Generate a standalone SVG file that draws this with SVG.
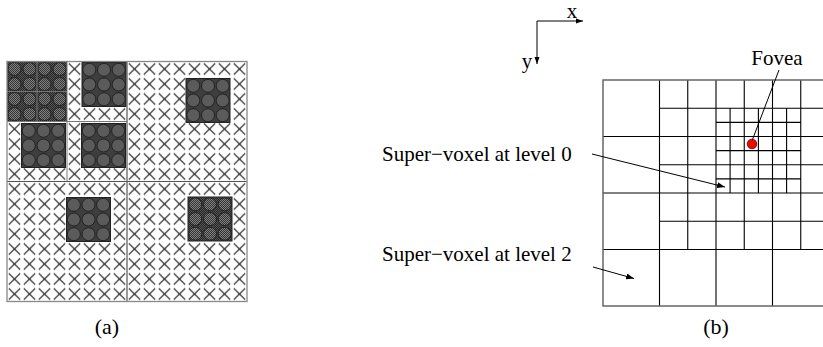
<svg xmlns="http://www.w3.org/2000/svg" xmlns:xlink="http://www.w3.org/1999/xlink" width="823" height="347" viewBox="0 0 823 347">
<style>
  text { font-family: "Liberation Serif", "Times New Roman", serif; fill: #000; }
  .lbl { font-size: 21px; }
  .cap { font-size: 22px; }
  .g { stroke: #000; stroke-width: 1.1; fill: none; }
  .gout { stroke: #666; stroke-width: 1.5; fill: none; }
  .qa { stroke: #555; stroke-width: 1.2; fill: none; }
  .qs { stroke: #777; stroke-width: 1; fill: none; }
  .circ { fill: url(#lt); stroke: #1e1e1e; stroke-width: 0.9; }
  .conn { stroke: #000; stroke-width: 1; fill: none; }
</style>
<defs>
  <pattern id="xp" x="7" y="61.5" width="15" height="15" patternUnits="userSpaceOnUse">
    <path d="M1.8 1.8L13.2 13.2M13.2 1.8L1.8 13.2" stroke="#111" stroke-width="1.1" fill="none"/>
  </pattern>
  <pattern id="dk" x="0" y="0" width="2" height="2" patternUnits="userSpaceOnUse">
    <rect width="2" height="2" fill="#555"/>
    <rect width="1" height="1" fill="#262626"/>
    <rect x="1" y="1" width="1" height="1" fill="#262626"/>
  </pattern>
  <pattern id="lt" x="0" y="0" width="2" height="2" patternUnits="userSpaceOnUse">
    <rect width="2" height="2" fill="#808080"/>
    <rect width="1" height="1" fill="#363636"/>
    <rect x="1" y="1" width="1" height="1" fill="#363636"/>
  </pattern>
  <g id="blk3">
    <rect width="44" height="44" fill="url(#dk)" stroke="#222" stroke-width="1"/>
    <circle class="circ" cx="7.33" cy="7.33" r="6.5"/>
    <circle class="circ" cx="22" cy="7.33" r="6.5"/>
    <circle class="circ" cx="36.67" cy="7.33" r="6.5"/>
    <circle class="circ" cx="7.33" cy="22" r="6.5"/>
    <circle class="circ" cx="22" cy="22" r="6.5"/>
    <circle class="circ" cx="36.67" cy="22" r="6.5"/>
    <circle class="circ" cx="7.33" cy="36.67" r="6.5"/>
    <circle class="circ" cx="22" cy="36.67" r="6.5"/>
    <circle class="circ" cx="36.67" cy="36.67" r="6.5"/>
  </g>
  <marker id="ah" viewBox="0 0 8 6" refX="8" refY="3" markerWidth="8" markerHeight="6" markerUnits="userSpaceOnUse" orient="auto">
    <path d="M0 0L8 3L0 6z" fill="#000"/>
  </marker>
  <marker id="ahs" viewBox="0 0 7 6" refX="7" refY="3" markerWidth="7" markerHeight="6" markerUnits="userSpaceOnUse" orient="auto">
    <path d="M0 0.5L7 3L0 5.5z" fill="#000"/>
  </marker>
</defs>
<rect width="823" height="347" fill="#fff"/>

<!-- Panel (a) -->
<g id="panel-a">
  <rect x="7" y="61.5" width="240" height="240" fill="url(#xp)"/>
  <g id="tl-sub">
    <rect x="7" y="61.5" width="60" height="60" fill="url(#dk)"/>
    <circle class="circ" cx="14.5" cy="69" r="6.5"/>
    <circle class="circ" cx="29.5" cy="69" r="6.5"/>
    <circle class="circ" cx="44.5" cy="69" r="6.5"/>
    <circle class="circ" cx="59.5" cy="69" r="6.5"/>
    <circle class="circ" cx="14.5" cy="84" r="6.5"/>
    <circle class="circ" cx="29.5" cy="84" r="6.5"/>
    <circle class="circ" cx="44.5" cy="84" r="6.5"/>
    <circle class="circ" cx="59.5" cy="84" r="6.5"/>
    <circle class="circ" cx="14.5" cy="99" r="6.5"/>
    <circle class="circ" cx="29.5" cy="99" r="6.5"/>
    <circle class="circ" cx="44.5" cy="99" r="6.5"/>
    <circle class="circ" cx="59.5" cy="99" r="6.5"/>
    <circle class="circ" cx="14.5" cy="114" r="6.5"/>
    <circle class="circ" cx="29.5" cy="114" r="6.5"/>
    <circle class="circ" cx="44.5" cy="114" r="6.5"/>
    <circle class="circ" cx="59.5" cy="114" r="6.5"/>
    <path class="qs" d="M37 61.5V121.5M7 91.5H67"/>
  </g>
  <use id="blk-tl-tr" xlink:href="#blk3" href="#blk3" x="82" y="62.5"/>
  <use id="blk-tl-bl" xlink:href="#blk3" href="#blk3" x="21.5" y="123.5"/>
  <use id="blk-tl-br" xlink:href="#blk3" href="#blk3" x="81.5" y="123.5"/>
  <use id="blk-tr" xlink:href="#blk3" href="#blk3" x="186" y="78.5"/>
  <use id="blk-bl" xlink:href="#blk3" href="#blk3" x="66.5" y="197.5"/>
  <use id="blk-br" xlink:href="#blk3" href="#blk3" x="188" y="197"/>
  <path class="qs" d="M67 61.5V181.5M7 121.5H127"/>
  <path class="qa" d="M127 61.5V301.5M7 181.5H247"/>
  <rect x="7" y="61.5" width="240" height="240" fill="none" stroke="#888" stroke-width="1.3"/>
</g>
<text id="cap-a" class="cap" x="107" y="334" text-anchor="middle">(a)</text>

<!-- Axes -->
<g id="axes">
  <path class="conn" d="M537 21H583" marker-end="url(#ahs)"/>
  <path class="conn" d="M537 21V64" marker-end="url(#ahs)"/>
  <text class="lbl" x="572" y="18" text-anchor="middle">x</text>
  <text class="lbl" x="527" y="68" text-anchor="middle">y</text>
</g>

<!-- Panel (b) grid -->
<g id="grid">
  <path class="g" d="M603 136.5H829M603 193H829M603 249.5H829
    M659.5 108.25H829M659.5 164.75H829M659.5 221.25H829
    M716 122.4H800.75M716 150.6H800.75M716 178.9H800.75
    M659.5 80V306M716 80V306M772.5 80V306
    M687.75 80V249.5M744.25 80V249.5M800.75 80V249.5
    M730.1 108.25V193M758.4 108.25V193M786.6 108.25V193"/>
  <rect class="gout" x="603" y="80" width="226" height="226"/>
</g>

<g id="fovea">
  <circle cx="752" cy="144" r="4.8" fill="#ff0000" stroke="#600" stroke-width="0.8"/>
  <text class="lbl" x="777" y="65" text-anchor="middle">Fovea</text>
</g>

<g id="label-level0">
  <text class="lbl" x="382" y="161">Super−voxel at level 0</text>
</g>
<g id="label-level2">
  <text class="lbl" x="382" y="261">Super−voxel at level 2</text>
</g>

<g id="connectors">
  <path class="conn" d="M779 70L752.5 139.5"/>
  <path class="conn" d="M592 154L725 187" marker-end="url(#ah)"/>
  <path class="conn" d="M593 267L634 278.5" marker-end="url(#ah)"/>
</g>

<text id="cap-b" class="cap" x="716" y="334" text-anchor="middle">(b)</text>
</svg>
